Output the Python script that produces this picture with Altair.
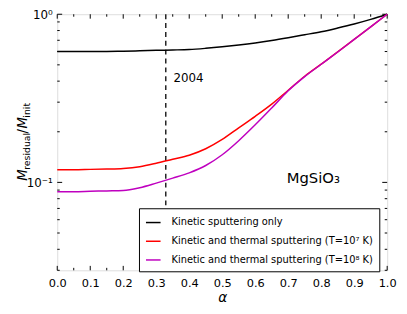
import altair as alt
import pandas as pd

alpha = [0.0, 0.05, 0.1, 0.15, 0.2, 0.25, 0.3, 0.35, 0.4, 0.45, 0.5, 0.55,
         0.6, 0.65, 0.7, 0.75, 0.8, 0.85, 0.9, 0.95, 1.0]
kinetic = [0.600, 0.600, 0.600, 0.601, 0.603, 0.606, 0.610, 0.613, 0.617, 0.627, 0.640, 0.656,
           0.675, 0.698, 0.725, 0.755, 0.787, 0.828, 0.875, 0.932, 1.0]
thermal7 = [0.119, 0.119, 0.1195, 0.120, 0.121, 0.124, 0.130, 0.1374, 0.145, 0.1585, 0.180, 0.211,
            0.247, 0.292, 0.353, 0.428, 0.505, 0.597, 0.709, 0.842, 1.0]
thermal8 = [0.088, 0.088, 0.0885, 0.089, 0.0895, 0.093, 0.099, 0.106, 0.114, 0.126, 0.146, 0.177,
            0.220, 0.277, 0.351, 0.426, 0.504, 0.596, 0.708, 0.841, 1.0]

series_names = ["Kinetic sputtering only",
                "Kinetic and thermal sputtering (T=10\u2077 K)",
                "Kinetic and thermal sputtering (T=10\u2078 K)"]
series_colors = ["#000000", "#ff0000", "#bf00bf"]

x_major = [0.0, 0.1, 0.2, 0.3, 0.4, 0.5, 0.6, 0.7, 0.8, 0.9, 1.0]
x_minor = [0.05, 0.15, 0.25, 0.35, 0.45, 0.55, 0.65, 0.75, 0.85, 0.95]
y_major = [0.1, 1.0]
y_minor = [0.03, 0.04, 0.05, 0.06, 0.07, 0.08, 0.09, 0.2, 0.3, 0.4, 0.5, 0.6, 0.7, 0.8, 0.9]
vline_alpha = [0.329]
vline_label = "2004"
material_label = "MgSiO\u2083"

W, H = 335, 260
FONT = "DejaVu Sans"

rows = []
for name, vals in zip(series_names, [kinetic, thermal7, thermal8]):
    for a, v in zip(alpha, vals):
        rows.append({"alpha": a, "value": v, "series": name})
df = pd.DataFrame(rows)

xscale = alt.Scale(domain=[0, 1], nice=False, zero=False)
yscale = alt.Scale(type="log", domain=[0.03, 1], nice=False)

xaxis = alt.Axis(values=x_major, format=".1f", ticks=False, title="\u03b1",
                 titleFont=FONT, titleFontSize=14, titleFontStyle="italic",
                 titleFontWeight="normal", titlePadding=2,
                 labelFont=FONT, labelFontSize=11.5, labelPadding=7,
                 labelOverlap=False, labelFlush=False,
                 labelColor="black", domain=False, grid=False)
yaxis = alt.Axis(values=y_major, ticks=False, title=None,
                 labelExpr="datum.value >= 0.99 ? '10\u2070' : '10\u207b\u00b9'",
                 labelFont=FONT, labelFontSize=12, labelPadding=5,
                 labelOverlap=False, labelFlush=False,
                 labelColor="black", domain=False, grid=False)

def X(field="alpha:Q"):
    return alt.X(field, scale=xscale, axis=xaxis)

def Y(field="value:Q"):
    return alt.Y(field, scale=yscale, axis=yaxis)

lines = alt.Chart(df).mark_line(strokeWidth=1.5, interpolate="monotone").encode(
    x=X(), y=Y(),
    color=alt.Color("series:N", sort=series_names,
                    scale=alt.Scale(domain=series_names, range=series_colors),
                    legend=alt.Legend(title=None, orient="none", legendX=83, legendY=197,
                                      symbolType="stroke", symbolStrokeWidth=1.5,
                                      symbolSize=220, labelFont=FONT, labelFontSize=10,
                                      labelColor="black",
                                      strokeColor="black", fillColor="white",
                                      padding=6, rowPadding=5, labelOffset=10,
                                      labelLimit=300, cornerRadius=0)),
)

vdf = pd.DataFrame({"alpha": vline_alpha})
vline = alt.Chart(vdf).mark_rule(color="black", strokeDash=[5, 4], strokeWidth=1.3).encode(
    x=X()
)

txt2004 = alt.Chart(pd.DataFrame({"t": [vline_label]})).mark_text(
    font=FONT, fontSize=12, align="left", baseline="middle", color="black"
).encode(x=alt.value(118), y=alt.value(65), text="t:N")

txtmat = alt.Chart(pd.DataFrame({"t": [material_label]})).mark_text(
    font=FONT, fontSize=15, align="left", baseline="middle", color="black"
).encode(x=alt.value(233), y=alt.value(166), text="t:N")

# y-axis title pieces (rotated)
ytitle_parts = [
    ("M", 13.5, "italic", -31, 169),
    ("residual", 9.5, "normal", -28, 158),
    ("/", 13.5, "normal", -31, 121),
    ("M", 13.5, "italic", -31, 116),
    ("init", 9.5, "normal", -28, 105),
]
ytitle_layers = []
for t, fs, st, xv, yv in ytitle_parts:
    ytitle_layers.append(
        alt.Chart(pd.DataFrame({"t": [t]})).mark_text(
            font=FONT, fontSize=fs, fontStyle=st, angle=270, align="left",
            baseline="alphabetic", color="black"
        ).encode(x=alt.value(xv), y=alt.value(yv), text="t:N")
    )

# inward ticks
def xticks(vals, length):
    d = pd.DataFrame({"alpha": vals})
    b = alt.Chart(d).mark_rule(color="black", strokeWidth=1).encode(
        x=X(), y=alt.value(H), y2=alt.value(H - length))
    t = alt.Chart(d).mark_rule(color="black", strokeWidth=1).encode(
        x=X(), y=alt.value(0), y2=alt.value(length))
    return [b, t]

def yticks(vals, length):
    d = pd.DataFrame({"value": vals})
    l = alt.Chart(d).mark_rule(color="black", strokeWidth=1).encode(
        y=Y(), x=alt.value(0), x2=alt.value(length))
    r = alt.Chart(d).mark_rule(color="black", strokeWidth=1).encode(
        y=Y(), x=alt.value(W), x2=alt.value(W - length))
    return [l, r]

tick_layers = xticks(x_major, 4.5) + xticks(x_minor, 2.5) + yticks(y_major, 5) + yticks(y_minor, 2.5)

chart = alt.layer(
    *tick_layers, vline, lines, txt2004, txtmat, *ytitle_layers
).resolve_scale(x="shared", y="shared").properties(
    width=W, height=H,
    autosize=alt.AutoSizeParams(type="none"),
    padding={"left": 50, "top": 4, "right": 12, "bottom": 40},
).configure_view(stroke="black", strokeWidth=1.2).configure(background="white")

chart.save("out.html", embed_options={"renderer": "svg", "actions": False})
